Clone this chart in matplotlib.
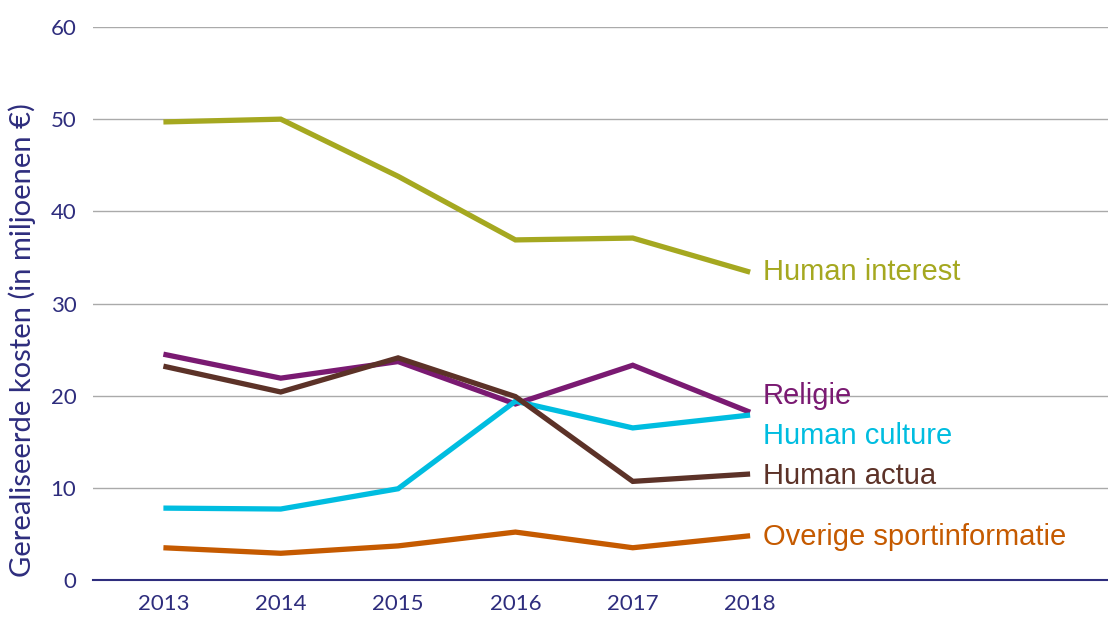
import matplotlib.pyplot as plt

years = [2013, 2014, 2015, 2016, 2017, 2018]

human_interest = [49.7, 50.0, 43.8, 36.9, 37.1, 33.4]
religie = [24.5, 21.9, 23.7, 19.1, 23.3, 18.2]
human_actua = [23.2, 20.4, 24.1, 19.9, 10.7, 11.5]
human_culture = [7.8, 7.7, 9.9, 19.4, 16.5, 17.9]
overige = [3.5, 2.9, 3.7, 5.2, 3.5, 4.8]

series_names = ["Human interest", "Religie", "Human culture", "Human actua", "Overige sportinformatie"]
series_values = [human_interest, religie, human_culture, human_actua, overige]
colors = ["#a5a820", "#7a1a72", "#00bde0", "#5c3228", "#c55a00"]
# label y positions (data units) next to the 2018 end
label_y = [33.4, 20.0, 15.6, 11.3, 4.7]

navy = "#2e2d7d"

fig = plt.figure(figsize=(11.08, 6.18), dpi=100)
ax = fig.add_axes([93 / 1108, 38 / 618, 1015 / 1108, 553 / 618])

for name, vals, c, ly in zip(series_names, series_values, colors, label_y):
    ax.plot(years, vals, color=c, lw=3.8, solid_capstyle='butt', solid_joinstyle='miter', zorder=3)
    ax.text(2018.11, ly, name, color=c, fontsize=21, family='Liberation Sans',
            va='center', ha='left')

ax.set_xlim(2012.4, 2021.05)
ax.set_ylim(0, 60)
ax.set_yticks(range(0, 61, 10))
ax.set_xticks(years)
ax.grid(axis='y', color='#aaaaaa', lw=1)
ax.set_axisbelow(True)

for s in ['top', 'right', 'left']:
    ax.spines[s].set_visible(False)
ax.spines['bottom'].set_color(navy)
ax.spines['bottom'].set_linewidth(1.5)
ax.spines['bottom'].set_zorder(4)

ax.tick_params(axis='both', length=0, colors=navy, labelsize=16)
ax.tick_params(axis='y', pad=12)
ax.tick_params(axis='x', pad=10)
for lab in ax.get_xticklabels() + ax.get_yticklabels():
    lab.set_family('Lato')

fig.text(22 / 1108, 1 - 340 / 618, "Gerealiseerde kosten (in miljoenen €)", rotation=90,
         ha='center', va='center', color=navy, fontsize=21, family='Lato')

fig.savefig("out.png", dpi=100)
